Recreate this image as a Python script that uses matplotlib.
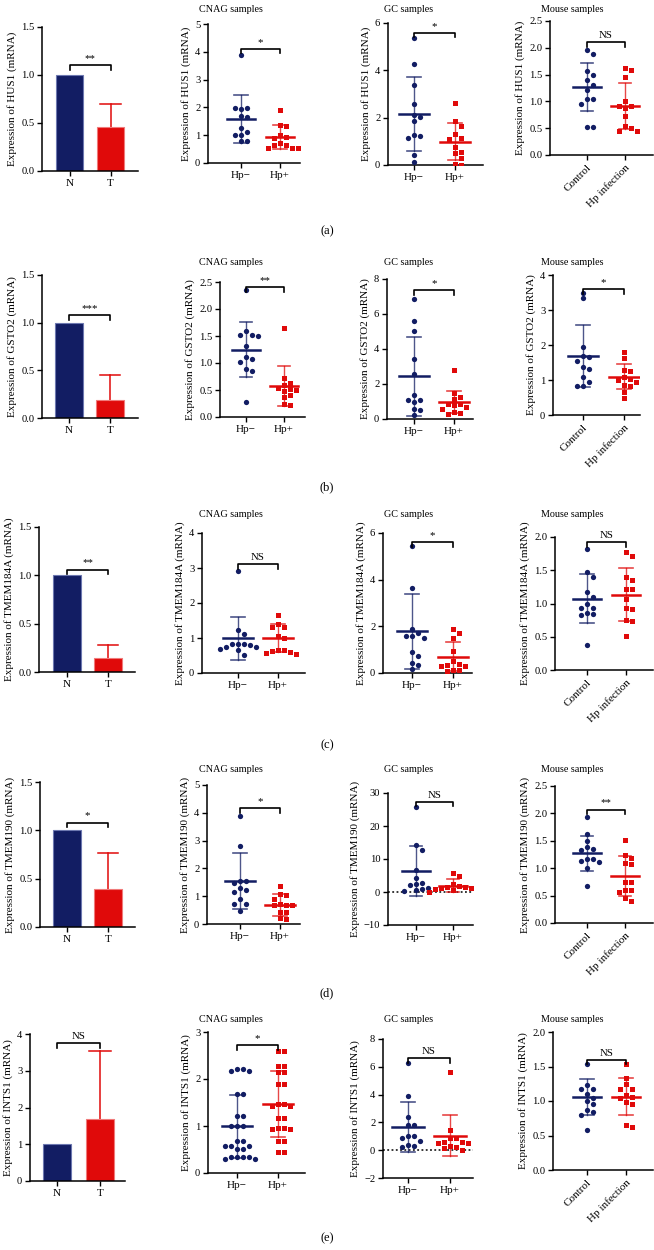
import numpy as np
import matplotlib
matplotlib.use("Agg")
import matplotlib.pyplot as plt

plt.rcParams['font.family'] = ['Liberation Serif', 'DejaVu Serif']
plt.rcParams['axes.unicode_minus'] = True

FIG_W, FIG_H = 654, 1250
NAVY = "#121d63"
RED = "#e00a0a"

GENES = ["HUS1", "GSTO2", "TMEM184A", "TMEM190", "INTS1"]
TAGS = ["(a)", "(b)", "(c)", "(d)", "(e)"]
BAR_GROUPS = ["N", "T"]
HP_GROUPS = ["Hp\u2212", "Hp+"]
MOUSE_GROUPS = ["Control", "Hp infection"]
COL_TITLES = [None, "CNAG samples", "GC samples", "Mouse samples"]

# ---- HUS1 ----
HUS1_BAR = [1.0, 0.46]
HUS1_BAR_ERR = [0.0, 0.24]
HUS1_CNAG_NEG = [3.90, 1.96, 1.98, 1.98, 1.68, 1.66, 1.26, 1.12, 1.02, 1.00, 0.78, 0.78]
HUS1_CNAG_POS = [1.92, 1.37, 1.32, 1.02, 0.94, 0.90, 0.72, 0.66, 0.64, 0.54, 0.53, 0.53]
HUS1_CNAG_MEAN = [1.58, 0.93]
HUS1_CNAG_SD = [0.85, 0.42]
HUS1_GC_NEG = [5.38, 4.28, 3.37, 2.57, 2.10, 2.04, 1.85, 1.26, 1.24, 1.12, 0.42, 0.11]
HUS1_GC_POS = [2.63, 1.85, 1.64, 1.29, 1.12, 1.08, 0.77, 0.56, 0.49, 0.28, 0.03, 0.00]
HUS1_GC_MEAN = [2.16, 0.98]
HUS1_GC_SD = [1.55, 0.78]
HUS1_MOUSE_NEG = [1.96, 1.88, 1.57, 1.49, 1.40, 1.31, 1.21, 1.04, 1.04, 0.96, 0.53, 0.53]
HUS1_MOUSE_POS = [1.62, 1.59, 1.46, 1.01, 0.91, 0.91, 0.88, 0.73, 0.54, 0.50, 0.45, 0.44]
HUS1_MOUSE_MEAN = [1.27, 0.91]
HUS1_MOUSE_SD = [0.45, 0.43]
HUS1_SIG = ["**", "*", "*", "NS"]

# ---- GSTO2 ----
GSTO2_BAR = [1.0, 0.19]
GSTO2_BAR_ERR = [0.0, 0.26]
GSTO2_CNAG_NEG = [2.36, 1.59, 1.52, 1.51, 1.50, 1.31, 1.11, 1.07, 1.01, 0.88, 0.86, 0.28]
GSTO2_CNAG_POS = [1.64, 0.72, 0.63, 0.60, 0.54, 0.51, 0.50, 0.48, 0.40, 0.37, 0.25, 0.22]
GSTO2_CNAG_MEAN = [1.25, 0.57]
GSTO2_CNAG_SD = [0.51, 0.37]
GSTO2_GC_NEG = [6.86, 5.58, 5.01, 3.43, 2.59, 1.35, 1.10, 1.10, 0.95, 0.57, 0.50, 0.21]
GSTO2_GC_POS = [2.78, 1.49, 1.24, 1.16, 0.88, 0.86, 0.82, 0.69, 0.57, 0.38, 0.34, 0.30]
GSTO2_GC_MEAN = [2.44, 0.95]
GSTO2_GC_SD = [2.25, 0.63]
GSTO2_MOUSE_NEG = [3.50, 3.33, 1.95, 1.69, 1.67, 1.55, 1.38, 1.31, 1.10, 0.95, 0.83, 0.83]
GSTO2_MOUSE_POS = [1.81, 1.62, 1.29, 1.27, 1.08, 1.03, 1.00, 0.93, 0.86, 0.83, 0.67, 0.50]
GSTO2_MOUSE_MEAN = [1.69, 1.10]
GSTO2_MOUSE_SD = [0.88, 0.37]
GSTO2_SIG = ["***", "**", "*", "*"]

# ---- TMEM184A ----
TMEM184A_BAR = [1.0, 0.14]
TMEM184A_BAR_ERR = [0.0, 0.14]
TMEM184A_CNAG_NEG = [2.92, 1.22, 1.11, 0.84, 0.82, 0.82, 0.81, 0.75, 0.73, 0.70, 0.67, 0.51]
TMEM184A_CNAG_POS = [1.67, 1.39, 1.32, 1.32, 1.06, 1.00, 0.67, 0.65, 0.62, 0.60, 0.58, 0.55]
TMEM184A_CNAG_MEAN = [0.99, 1.00]
TMEM184A_CNAG_SD = [0.62, 0.40]
TMEM184A_GC_NEG = [5.43, 3.64, 1.89, 1.71, 1.57, 1.57, 1.50, 0.89, 0.74, 0.43, 0.36, 0.17]
TMEM184A_GC_POS = [1.89, 1.71, 1.50, 0.93, 0.50, 0.40, 0.36, 0.29, 0.29, 0.14, 0.14, 0.07]
TMEM184A_GC_MEAN = [1.79, 0.69]
TMEM184A_GC_SD = [1.61, 0.62]
TMEM184A_MOUSE_NEG = [1.82, 1.47, 1.40, 1.17, 1.10, 1.00, 0.93, 0.93, 0.85, 0.84, 0.83, 0.38]
TMEM184A_MOUSE_POS = [1.78, 1.72, 1.40, 1.36, 1.22, 1.22, 1.07, 0.93, 0.92, 0.75, 0.74, 0.51]
TMEM184A_MOUSE_MEAN = [1.07, 1.13]
TMEM184A_MOUSE_SD = [0.37, 0.40]
TMEM184A_SIG = ["**", "NS", "*", "NS"]

# ---- TMEM190 ----
TMEM190_BAR = [1.0, 0.39]
TMEM190_BAR_ERR = [0.0, 0.38]
TMEM190_CNAG_NEG = [3.90, 2.82, 1.55, 1.55, 1.46, 1.28, 1.22, 1.16, 0.89, 0.71, 0.71, 0.48]
TMEM190_CNAG_POS = [1.37, 1.08, 1.04, 0.89, 0.71, 0.68, 0.68, 0.68, 0.44, 0.44, 0.20, 0.17]
TMEM190_CNAG_MEAN = [1.55, 0.68]
TMEM190_CNAG_SD = [1.02, 0.40]
TMEM190_GC_NEG = [25.7, 14.1, 12.6, 6.6, 4.3, 2.8, 2.5, 2.1, 1.1, 0.9, 0.6, 0.4]
TMEM190_GC_POS = [5.8, 4.8, 2.4, 1.8, 1.6, 1.6, 1.2, 1.1, 0.8, 0.8, 0.6, 0.1]
TMEM190_GC_MEAN = [6.3, 1.9]
TMEM190_GC_SD = [7.6, 1.9]
TMEM190_MOUSE_NEG = [1.94, 1.62, 1.50, 1.38, 1.35, 1.33, 1.17, 1.17, 1.13, 1.11, 1.01, 0.68]
TMEM190_MOUSE_POS = [1.52, 1.24, 1.18, 1.10, 1.07, 0.75, 0.75, 0.60, 0.60, 0.57, 0.45, 0.40]
TMEM190_MOUSE_MEAN = [1.27, 0.86]
TMEM190_MOUSE_SD = [0.32, 0.36]
TMEM190_SIG = ["*", "*", "NS", "**"]

# ---- INTS1 ----
INTS1_BAR = [1.0, 1.69]
INTS1_BAR_ERR = [0.0, 1.85]
INTS1_CNAG_NEG = [2.21, 2.21, 2.18, 2.16, 1.68, 1.68, 1.22, 1.22, 0.99, 0.99, 0.99, 0.69,
                  0.69, 0.57, 0.57, 0.57, 0.51, 0.51, 0.35, 0.35, 0.35, 0.35, 0.30, 0.30]
INTS1_CNAG_POS = [2.60, 2.60, 2.28, 2.28, 2.14, 2.14, 1.90, 1.90, 1.47, 1.47, 1.43,
                  1.43, 1.17, 1.17, 0.96, 0.96, 0.93, 0.93, 0.69, 0.69, 0.45, 0.45]
INTS1_CNAG_MEAN = [0.99, 1.47]
INTS1_CNAG_SD = [0.68, 0.70]
INTS1_GC_NEG = [6.29, 3.90, 2.37, 1.82, 1.82, 1.05, 1.05, 0.86, 0.69, 0.38, 0.33, 0.22]
INTS1_GC_POS = [5.60, 1.46, 0.86, 0.86, 0.62, 0.57, 0.55, 0.50, 0.33, 0.26, 0.14, 0.02]
INTS1_GC_MEAN = [1.70, 1.05]
INTS1_GC_SD = [1.80, 1.50]
INTS1_MOUSE_NEG = [1.54, 1.23, 1.17, 1.17, 1.10, 1.05, 1.00, 0.96, 0.87, 0.84, 0.79, 0.58]
INTS1_MOUSE_POS = [1.53, 1.33, 1.24, 1.17, 1.17, 1.08, 1.06, 1.04, 0.99, 0.96, 0.65, 0.62]
INTS1_MOUSE_MEAN = [1.06, 1.06]
INTS1_MOUSE_SD = [0.26, 0.27]
INTS1_SIG = ["NS", "*", "NS", "NS"]

# table built from the lists above
G = globals()
DATA = {}
for g in GENES:
    DATA[g] = {
        "bar": (G[g + "_BAR"], G[g + "_BAR_ERR"]),
        "sig": G[g + "_SIG"],
    }
    for k in ("CNAG", "GC", "MOUSE"):
        DATA[g][k] = (G[f"{g}_{k}_NEG"], G[f"{g}_{k}_POS"], G[f"{g}_{k}_MEAN"], G[f"{g}_{k}_SD"])

# layout in pixels: (axis left, x of group0, x of group1, axis right, y top, y bottom)
LAYOUT = [
    [(42, 69.5, 110.5, 138, 27, 171), (208, 241, 280, 300, 24, 163), (388, 414, 455, 483, 23, 165), (550, 587, 625, 653, 21, 155)],
    [(42, 69, 110, 138, 275, 418), (220, 246, 284, 305, 282, 417), (387, 414, 454, 473, 279, 419), (553, 583, 624, 640, 275, 415)],
    [(39, 67, 108, 135, 527, 672), (202, 238, 278, 305, 533, 673), (383, 412, 453, 472, 533, 673), (555, 587, 626, 653, 537, 670)],
    [(40, 67, 108, 135, 782, 927), (207, 240, 280, 300, 785, 924), (388, 416, 453, 473, 793, 925), (555, 587, 625, 653, 786, 923)],
    [(30, 57, 100, 125, 1034, 1181), (208, 237, 278, 305, 1032, 1173), (383, 408, 450, 473, 1039, 1178), (553, 587, 626, 653, 1032, 1170)],
]
# y axis: (min, max, step, decimals)
YAX = [
    [(0, 1.5, 0.5, 1), (0, 5, 1, 0), (0, 6, 2, 0), (0, 2.5, 0.5, 1)],
    [(0, 1.5, 0.5, 1), (0, 2.5, 0.5, 1), (0, 8, 2, 0), (0, 4, 1, 0)],
    [(0, 1.5, 0.5, 1), (0, 4, 1, 0), (0, 6, 2, 0), (0, 2.0, 0.5, 1)],
    [(0, 1.5, 0.5, 1), (0, 5, 1, 0), (-10, 30, 10, 0), (0, 2.5, 0.5, 1)],
    [(0, 4, 1, 0), (0, 3, 1, 0), (-2, 8, 2, 0), (0, 2.0, 0.5, 1)],
]
BRACKET_Y = [
    [1.10, 4.11, 5.59, 2.10],
    [1.08, 2.40, 7.35, 3.59],
    [1.06, 3.11, 5.61, 1.92],
    [1.08, 4.16, 27.3, 2.07],
    [3.75, 2.72, 6.6, 1.60],
]
ROW_TITLE_Y = [5, 258, 510, 765, 1015]
COL_TITLE_X = [None, 231, 409, 572]
TAG_Y = [231, 487, 745, 993, 1238]

FS = 7.6      # tick labels
FS_LAB = 8.0  # y labels
FS_TIT = 7.3

fig = plt.figure(figsize=(FIG_W / 100, FIG_H / 100), dpi=100)


def frame(ax, spec, yax):
    xl, x0, x1, xr, yt, yb = spec
    unit = x1 - x0
    ax.set_position([xl / FIG_W, 1 - yb / FIG_H, (xr - xl) / FIG_W, (yb - yt) / FIG_H])
    ax.set_xlim(-(x0 - xl) / unit, 1 + (xr - x1) / unit)
    lo, hi, step, dec = yax
    ax.set_ylim(lo, hi)
    ticks = np.arange(lo, hi + step / 2, step)
    ax.set_yticks(ticks)
    ax.set_yticklabels([f"{t:.{dec}f}".replace("-", "\u2212") for t in ticks])
    for s in ("top", "right"):
        ax.spines[s].set_visible(False)
    for s in ("left", "bottom"):
        ax.spines[s].set_linewidth(1.1)
    ax.tick_params(direction="out", length=3.5, width=1.0, labelsize=FS, pad=2)
    ax.set_xticks([0, 1])


def bracket(ax, y, label):
    lo, hi = ax.get_ylim()
    h = ax.get_window_extent().height
    drop = 4.5 / h * (hi - lo)
    ax.plot([0, 0, 1, 1], [y - drop, y, y, y - drop], color="k", lw=1.2, clip_on=False, zorder=5)
    ax.annotate(label, xy=(0.5, y), xytext=(0, 1.5), textcoords="offset points",
                ha="center", va="bottom", fontsize=FS + 0.2)


def swarm_x(ax, center, vals, d=6.0):
    to_px = ax.transData.transform
    ppu = to_px((1, 0))[0] - to_px((0, 0))[0]
    placed = []
    xs = []
    for v in vals:
        py = to_px((0, v))[1]
        for k in (0, 1, -1, 2, -2, 3, -3, 4, -4, 5, -5):
            px = k * d
            if all((px - qx) ** 2 + (py - qy) ** 2 >= (d * 0.95) ** 2 for qx, qy in placed):
                break
        placed.append((px, py))
        xs.append(center + px / ppu)
    return xs


for r, gene in enumerate(GENES):
    ylabel = f"Expression of {gene} (mRNA)"
    # bar panel
    ax = fig.add_axes([0, 0, 1, 1])
    frame(ax, LAYOUT[r][0], YAX[r][0])
    vals, errs = DATA[gene]["bar"]
    pos = np.arange(len(BAR_GROUPS))
    ax.bar(pos, vals, width=0.66, color=[NAVY, RED], edgecolor=["#6d78b0", "#f07a7a"], linewidth=0.8, zorder=2)
    for i in pos:
        if errs[i] > 0:
            top = vals[i] + errs[i]
            ax.plot([i, i], [vals[i], top], color=RED, lw=1.1, zorder=1)
            ax.plot([i - 0.25, i + 0.25], [top, top], color=RED, lw=1.1, zorder=1)
    ax.set_xticklabels(BAR_GROUPS, fontsize=FS + 0.4)
    ax.set_ylabel(ylabel, fontsize=FS_LAB, labelpad=3)
    bracket(ax, BRACKET_Y[r][0], DATA[gene]["sig"][0])

    for c, key in enumerate(("CNAG", "GC", "MOUSE"), start=1):
        ax = fig.add_axes([0, 0, 1, 1])
        frame(ax, LAYOUT[r][c], YAX[r][c])
        neg, posv, mean, sd = DATA[gene][key]
        if YAX[r][c][0] < 0:
            ax.axhline(0, color="k", ls=(0, (1.2, 1.6)), lw=1.1, zorder=1)
        ax.plot(swarm_x(ax, 0, neg), neg, "o", color=NAVY, ms=3.8, mew=0, zorder=3)
        ax.plot(swarm_x(ax, 1, posv), posv, "s", color=RED, ms=3.6, mew=0, zorder=3)
        for i, col in enumerate((NAVY, RED)):
            m, s = mean[i], sd[i]
            ax.plot([i - 0.37, i + 0.37], [m, m], color=col, lw=1.8, zorder=4)
            ax.plot([i, i], [m - s, m + s], color=col, lw=1.0, alpha=0.75, zorder=4)
            for yy in (m - s, m + s):
                ax.plot([i - 0.17, i + 0.17], [yy, yy], color=col, lw=1.2, alpha=0.75, zorder=4)
        if key == "MOUSE":
            ax.set_xticklabels(MOUSE_GROUPS, fontsize=FS + 0.4, rotation=45, ha="right",
                               rotation_mode="anchor")
        else:
            ax.set_xticklabels(HP_GROUPS, fontsize=FS + 0.4)
        ax.set_ylabel(ylabel, fontsize=FS_LAB, labelpad=3)
        bracket(ax, BRACKET_Y[r][c], DATA[gene]["sig"][c])
        fig.text(COL_TITLE_X[c] / FIG_W, 1 - ROW_TITLE_Y[r] / FIG_H, COL_TITLES[c],
                 ha="center", va="top", fontsize=FS_TIT)

    fig.text(327 / FIG_W, 1 - TAG_Y[r] / FIG_H, TAGS[r], ha="center", va="center", fontsize=9)

fig.savefig("out.png", dpi=100)
